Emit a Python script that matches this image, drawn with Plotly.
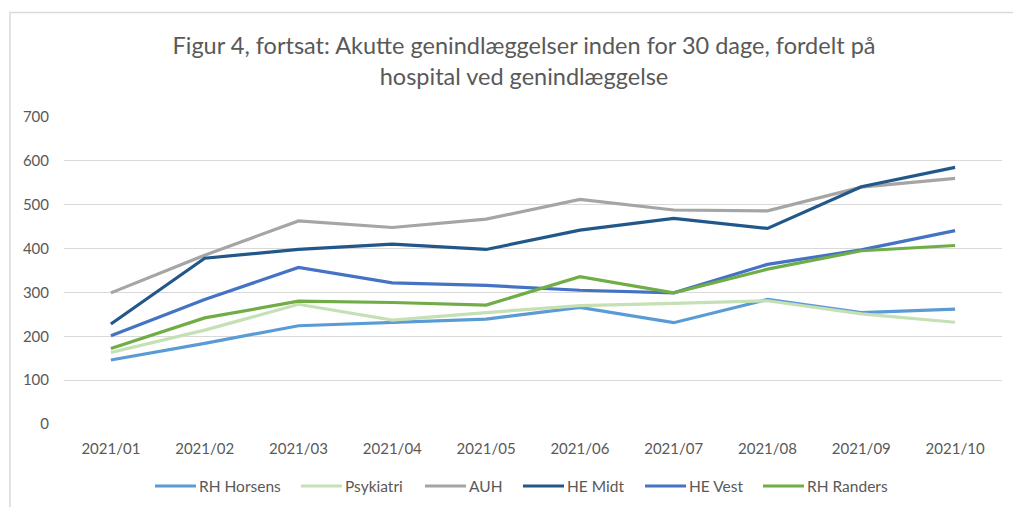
import plotly.graph_objects as go

months = ["2021/01", "2021/02", "2021/03", "2021/04", "2021/05",
          "2021/06", "2021/07", "2021/08", "2021/09", "2021/10"]

rh_horsens = [146, 184, 224, 232, 239, 266, 231, 284, 254, 262]
psykiatri = [163, 214, 273, 237, 254, 270, 275, 281, 251, 232]
auh = [299, 385, 463, 448, 467, 512, 488, 486, 540, 560]
he_midt = [228, 378, 398, 410, 398, 442, 469, 446, 541, 585]
he_vest = [201, 284, 357, 322, 316, 305, 299, 364, 397, 441]
rh_randers = [172, 242, 280, 277, 271, 336, 299, 353, 395, 407]

series_names = ["RH Horsens", "Psykiatri", "AUH", "HE Midt", "HE Vest", "RH Randers"]
series_values = [rh_horsens, psykiatri, auh, he_midt, he_vest, rh_randers]
series_colors = ["#5B9BD5", "#C5E0B4", "#A5A5A5", "#22578A", "#4472C4", "#70AD47"]

y_ticks = [0, 100, 200, 300, 400, 500, 600, 700]

FONT = "Lato"
TXT = "#595959"

W, H = 1013, 507
L, R, T, B = 64, 11, 117, 83
pw = W - L - R
ph = H - T - B

def px_to_paper_x(px):
    return (px - L) / pw

def px_to_paper_y(py):
    return (H - B - py) / ph

fig = go.Figure()
for name, vals, col in zip(series_names, series_values, series_colors):
    fig.add_trace(go.Scatter(
        x=months, y=vals, name=name, mode="lines",
        line=dict(color=col, width=3.2), showlegend=False,
    ))

# legend drawn below the plot, Excel style (line sample + label)
legend_start_px = [155, 301, 425, 523, 645, 763]
legend_y = px_to_paper_y(486)
for name, col, x0 in zip(series_names, series_colors, legend_start_px):
    fig.add_shape(type="line", xref="paper", yref="paper",
                  x0=px_to_paper_x(x0), x1=px_to_paper_x(x0 + 41),
                  y0=legend_y, y1=legend_y,
                  line=dict(color=col, width=3.2))
    fig.add_annotation(text=name, xref="paper", yref="paper",
                       x=px_to_paper_x(x0 + 42), y=legend_y,
                       xanchor="left", yanchor="middle", showarrow=False,
                       font=dict(family=FONT, size=15.5, color=TXT))

# outer chart-area border (only left and top edges visible)
bx = px_to_paper_x(10)
by = px_to_paper_y(12.5)
fig.add_shape(type="path", xref="paper", yref="paper",
              path=f"M {bx},{px_to_paper_y(520)} L {bx},{by} L {px_to_paper_x(1030)},{by}",
              line=dict(color="#D9D9D9", width=1.5))

fig.update_layout(
    width=W, height=H,
    margin=dict(l=L, r=R, t=T, b=B, autoexpand=False),
    paper_bgcolor="white", plot_bgcolor="white",
    font=dict(family=FONT, color=TXT, size=15),
    title=dict(
        text="Figur 4, fortsat: Akutte genindlæggelser inden for 30 dage, fordelt på<br>hospital ved genindlæggelse",
        x=px_to_paper_x(524), xref="paper", xanchor="center",
        y=1 - 54 / H, yref="container", yanchor="top",
        font=dict(family=FONT, size=23.5, color=TXT),
    ),
    xaxis=dict(
        type="category", range=[-0.5, 9.5],
        showgrid=False, showline=False, zeroline=False, ticks="",
        ticklabelstandoff=14,
        tickfont=dict(family=FONT, size=15, color=TXT),
    ),
    yaxis=dict(
        range=[0, 700], tickvals=y_ticks,
        showgrid=True, gridcolor="#D9D9D9", gridwidth=1.3,
        zeroline=False, showline=False, ticks="",
        ticklabelstandoff=14,
        tickfont=dict(family=FONT, size=15, color=TXT),
    ),
    showlegend=False,
)

fig.write_html("out.html", config={"displayModeBar": False},
               post_script="document.body.style.margin='0';")
